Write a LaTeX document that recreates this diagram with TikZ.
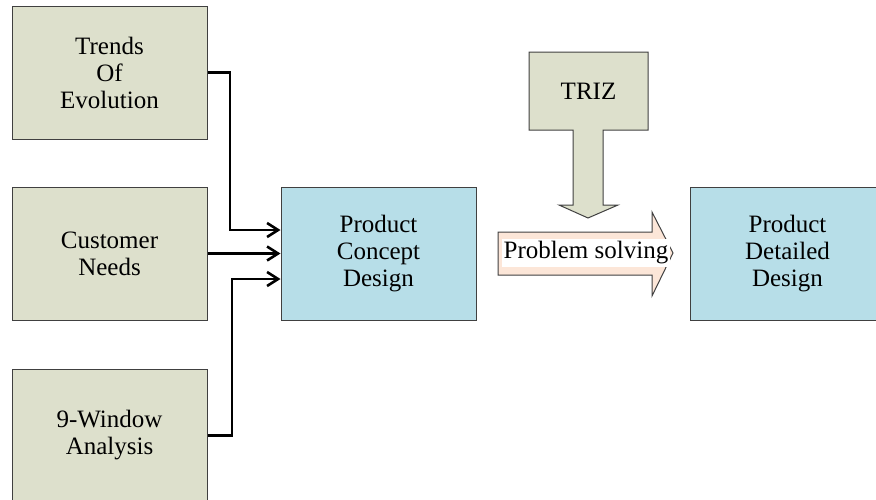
\documentclass[tikz,border=0pt]{standalone}
\usepackage{fontspec}
\setmainfont{Liberation Serif}
\usetikzlibrary{arrows.meta,calc}
\definecolor{sage}{RGB}{221,224,204}
\definecolor{paleblue}{RGB}{183,222,232}
\definecolor{peach}{RGB}{252,230,216}
\definecolor{edge}{RGB}{64,64,64}
\tikzset{
  box/.style={draw=edge, line width=1pt, minimum width=195pt, minimum height=133pt,
    inner sep=0pt, align=center, font=\fontsize{25}{27}\selectfont},
  inbox/.style={box, fill=sage},
  outbox/.style={box, fill=paleblue},
  conn/.style={line width=2.6pt, -{Straight Barb[length=11pt,width=14pt,line width=2.6pt]}},
  bigarrow/.style={draw=edge, line width=1pt, line join=miter},
}
\begin{document}
\begin{tikzpicture}[x=1pt,y=-1pt]
  \clip (0,0) rectangle (876,499);

  % input boxes on the left
  \node[inbox] (trends)   at (109.5,72.5)  {Trends\\Of\\Evolution};
  \node[inbox] (customer) at (109.5,253.5) {Customer\\Needs};
  \node[inbox] (window)   at (109.5,435.5) {9-Window\\Analysis};

  % design stages
  \node[outbox] (concept)  at (378.5,253.5) {Product\\Concept\\Design};
  \node[outbox] (detailed) at (787.5,253.5) {Product\\Detailed\\Design};

  % TRIZ callout arrow pointing down
  \draw[bigarrow, fill=sage]
    (529,52) -- (648,52) -- (648,130) -- (603,130) -- (603,205) -- (618,205)
    -- (588,218) -- (559,205) -- (573,205) -- (573,130) -- (529,130) -- cycle;
  \node[font=\fontsize{25}{27}\selectfont] (triz) at (588.5,91) {TRIZ};

  % problem solving block arrow
  \draw[bigarrow, fill=peach]
    (498,232) -- (652,232) -- (652,212) -- (673,253) -- (652,296) -- (652,275)
    -- (498,275) -- cycle;
  \node[fill=white, inner xsep=2pt, inner ysep=3pt, font=\fontsize{25}{27}\selectfont]
    (solve) at (586,253) {Problem solving};

  % connectors into the concept stage
  \draw[conn] (trends.east) -| (230,230) -- ([yshift=23.5pt]concept.west);
  \draw[conn] (customer.east) -- (concept.west);
  \draw[conn] (window.east) -| (232,279) -- ([yshift=-25.5pt]concept.west);
\end{tikzpicture}
\end{document}
